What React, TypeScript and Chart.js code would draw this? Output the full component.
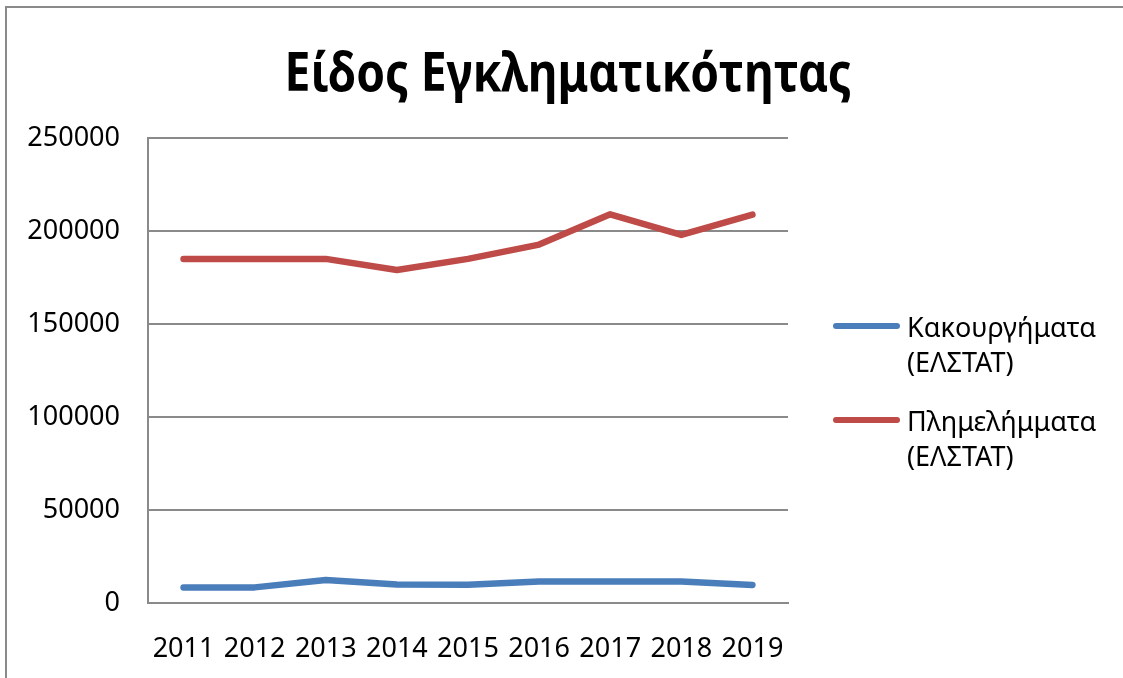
import React, { useEffect, useRef } from "react";
import { Chart, registerables } from "chart.js";

Chart.register(...registerables);

const titleText = "Είδος Εγκληματικότητας";
const years = ["2011", "2012", "2013", "2014", "2015", "2016", "2017", "2018", "2019"];
const feloniesLabel = ["Κακουργήματα", "(ΕΛΣΤΑΤ)"];
const felonies = [8400, 8400, 12400, 10000, 9800, 11500, 11500, 11500, 9700];
const misdemeanorsLabel = ["Πλημελήμματα", "(ΕΛΣΤΑΤ)"];
const misdemeanors = [185000, 185000, 185000, 179000, 185000, 192700, 209000, 197900, 208800];
const yTicks = [0, 50000, 100000, 150000, 200000, 250000];

const FONT = "'Noto Sans', 'DejaVu Sans', sans-serif";
const GRID = "#8a8a8a";

const decorPlugin = {
  id: "decor",
  beforeDraw(chart: any) {
    const ctx = chart.ctx;
    ctx.save();
    ctx.fillStyle = "#ffffff";
    ctx.fillRect(0, 0, chart.width, chart.height);
    ctx.strokeStyle = GRID;
    ctx.lineWidth = 2;
    ctx.beginPath();
    ctx.moveTo(6, chart.height + 5);
    ctx.lineTo(6, 7);
    ctx.lineTo(chart.width + 5, 7);
    ctx.stroke();
    ctx.restore();
  },
  afterDraw(chart: any) {
    const ctx = chart.ctx;
    const area = chart.chartArea;
    ctx.save();
    // title (narrowed to match the condensed look of the original face)
    ctx.fillStyle = "#000000";
    ctx.font = `bold 53px ${FONT}`;
    ctx.textAlign = "center";
    ctx.textBaseline = "alphabetic";
    const w = ctx.measureText(titleText).width;
    const sx = Math.min(1, 567 / w);
    ctx.translate(568, 91);
    ctx.scale(sx, 1);
    ctx.fillText(titleText, 0, 0);
    ctx.restore();
    ctx.save();
    // legend
    const lx = area.right + 45;
    chart.data.datasets.forEach((ds: any, i: number) => {
      const yBase = 326 + i * 94;
      ctx.strokeStyle = ds.borderColor;
      ctx.lineWidth = 6;
      ctx.lineCap = "round";
      ctx.beginPath();
      ctx.moveTo(lx + 3, yBase);
      ctx.lineTo(lx + 64, yBase);
      ctx.stroke();
      ctx.fillStyle = "#000000";
      ctx.font = `27px ${FONT}`;
      ctx.textAlign = "left";
      ctx.textBaseline = "middle";
      const lines: string[] = ds.legendLines;
      lines.forEach((t, k) => {
        ctx.fillText(t, lx + 74, yBase + 3 + k * 35);
      });
    });
    ctx.restore();
  },
};

export default function App() {
  const ref = useRef<HTMLCanvasElement | null>(null);
  useEffect(() => {
    document.body.style.margin = "0";
    const canvas = ref.current;
    if (!canvas) return;
    const chart = new Chart(canvas, {
      type: "line",
      data: {
        labels: years,
        datasets: [
          {
            label: feloniesLabel.join(" "),
            legendLines: feloniesLabel,
            data: felonies,
            borderColor: "#4a7ebb",
            backgroundColor: "#4a7ebb",
            borderWidth: 6.5,
            pointRadius: 0,
            tension: 0,
            borderCapStyle: "round",
            borderJoinStyle: "round",
          } as any,
          {
            label: misdemeanorsLabel.join(" "),
            legendLines: misdemeanorsLabel,
            data: misdemeanors,
            borderColor: "#be4b48",
            backgroundColor: "#be4b48",
            borderWidth: 6.5,
            pointRadius: 0,
            tension: 0,
            borderCapStyle: "round",
            borderJoinStyle: "round",
          } as any,
        ],
      },
      options: {
        responsive: false,
        animation: false,
        layout: { padding: { top: 138, right: 335, left: 0, bottom: 0 } },
        plugins: {
          legend: { display: false },
          title: { display: false },
          tooltip: { enabled: false },
        },
        scales: {
          x: {
            offset: true,
            grid: { display: false, drawTicks: false },
            border: { display: true, color: GRID, width: 2 },
            ticks: {
              color: "#000000",
              font: { family: FONT, size: 27 },
              padding: 30,
              maxRotation: 0,
              autoSkip: false,
            },
            afterFit: (axis: any) => {
              axis.height = 75;
            },
          },
          y: {
            min: yTicks[0],
            max: yTicks[yTicks.length - 1],
            afterBuildTicks: (axis: any) => {
              axis.ticks = yTicks.map((v) => ({ value: v }));
            },
            grid: { color: GRID, lineWidth: 2, drawTicks: false },
            border: { display: true, color: GRID, width: 2 },
            ticks: {
              color: "#000000",
              font: { family: FONT, size: 27 },
              padding: 28,
              callback: (v: any) => String(v),
            },
            afterFit: (axis: any) => {
              axis.width = 148;
            },
          },
        },
      },
      plugins: [decorPlugin],
    });
    return () => chart.destroy();
  }, []);
  return (
    <div style={{ width: 1123, height: 678 }}>
      <canvas ref={ref} width={1123} height={678} style={{ width: 1123, height: 678, display: "block" }} />
    </div>
  );
}
